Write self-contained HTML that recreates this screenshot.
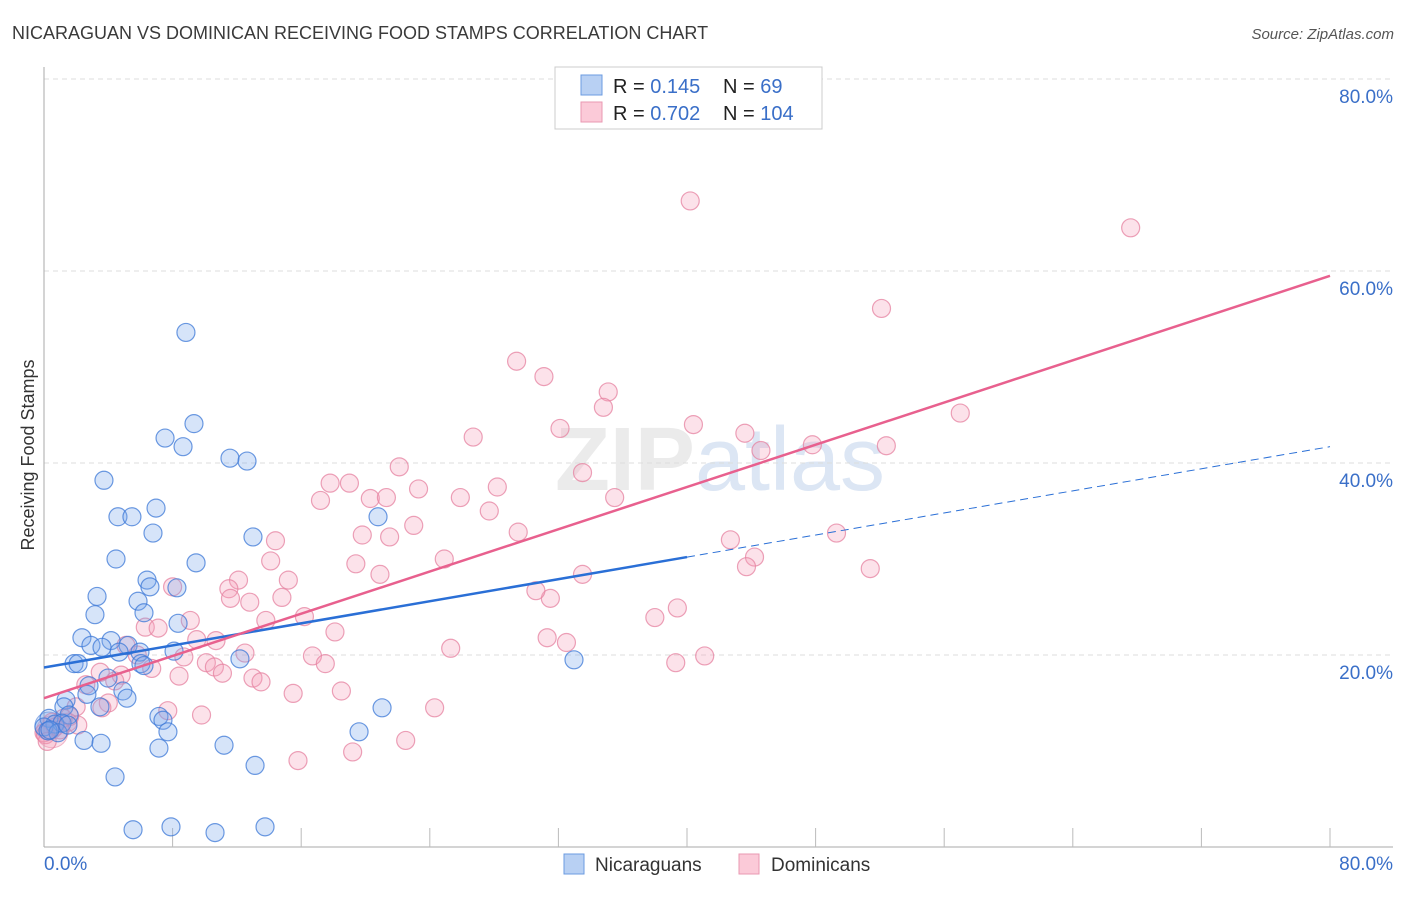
<!DOCTYPE html>
<html><head><meta charset="utf-8"><style>
body{margin:0;background:#fff;font-family:"Liberation Sans",sans-serif}
svg text{font-family:"Liberation Sans",sans-serif}
</style></head><body>
<svg id="chart" width="1406" height="892" xmlns="http://www.w3.org/2000/svg">
<text x="12" y="39" font-size="18" fill="#3a3a3a">NICARAGUAN VS DOMINICAN RECEIVING FOOD STAMPS CORRELATION CHART</text>
<text x="1394" y="39" font-size="15" fill="#555" font-style="italic" text-anchor="end">Source: ZipAtlas.com</text>
<text x="720" y="490" font-size="90" fill="#ebebeb" text-anchor="middle" font-weight="bold">ZIP<tspan fill="#dce6f4" font-weight="normal">atlas</tspan></text>
<g id="grid"></g>
<g id="axes"></g>
<g id="pts"></g>
<g id="lines"></g>
<text transform="translate(34,455) rotate(-90)" font-size="18" fill="#333" text-anchor="middle">Receiving Food Stamps</text>
<g>
<rect x="555" y="67" width="267" height="62" fill="#fff" stroke="#ccc"/>
<rect x="581" y="75" width="21" height="20" fill="#b8d0f3" stroke="#6b9be0"/>
<rect x="581" y="102" width="21" height="20" fill="#fbcad8" stroke="#ea98b2"/>
<text x="613" y="93" font-size="20" fill="#222">R = <tspan fill="#3a6fc8"> 0.145</tspan></text>
<text x="723" y="93" font-size="20" fill="#222">N = <tspan fill="#3a6fc8">  69</tspan></text>
<text x="613" y="120" font-size="20" fill="#222">R = <tspan fill="#3a6fc8">0.702</tspan></text>
<text x="723" y="120" font-size="20" fill="#222">N = <tspan fill="#3a6fc8">104</tspan></text>
</g>
<g>
<rect x="564" y="854" width="20" height="20" fill="#b8d0f3" stroke="#6b9be0"/>
<text x="595" y="871" font-size="19" fill="#333">Nicaraguans</text>
<rect x="739" y="854" width="20" height="20" fill="#fbcad8" stroke="#ea98b2"/>
<text x="771" y="871" font-size="19" fill="#333">Dominicans</text>
</g>
</svg>
<script>
const blueX=[8.83,9.33,7.53,8.65,11.57,12.63,3.73,6.97,4.6,5.47,20.78,6.78,13.0,4.48,9.46,6.41,6.59,8.27,3.3,5.85,6.22,3.17,8.34,2.36,4.17,2.92,3.61,5.23,5.97,4.67,8.09,12.19,32.97,1.87,2.12,6.03,6.22,2.8,3.98,2.67,4.91,5.16,1.37,1.24,3.48,1.56,7.15,7.4,0.31,0.68,1.12,0,0.25,0.87,1.49,7.71,21.03,19.6,2.49,3.55,7.15,11.2,13.13,4.42,5.54,7.9,10.64,13.75,0.37];
const blueY=[53.6,44.1,42.6,41.7,40.5,40.2,38.2,35.3,34.4,34.4,34.4,32.7,32.3,30.0,29.6,27.8,27.1,27.0,26.1,25.6,24.4,24.2,23.3,21.8,21.5,21.0,20.8,21.0,20.3,20.3,20.4,19.6,19.5,19.1,19.1,19.1,18.9,16.8,17.6,15.9,16.25,15.5,15.3,14.6,14.6,13.75,13.6,13.2,13.4,12.8,12.9,12.5,12.1,11.9,12.7,12.0,14.5,12.0,11.1,10.8,10.3,10.6,8.5,7.3,1.8,2.1,1.5,2.1,12.2];
const pinkX=[40.2,67.6,52.1,29.4,31.1,35.1,34.8,57.0,26.7,40.4,32.1,43.6,47.8,52.4,44.6,22.1,33.5,17.8,19.0,23.3,28.2,17.2,20.3,21.3,25.9,35.5,27.7,23.0,29.5,19.8,21.5,14.4,49.3,42.7,14.1,24.9,44.2,19.4,43.7,20.9,33.5,51.4,15.2,12.1,8.0,11.5,11.6,14.8,12.8,31.5,30.6,39.4,38.0,9.1,13.8,16.2,6.3,7.1,18.1,31.3,32.5,10.7,9.5,25.3,5.1,5.8,12.5,8.7,16.7,41.1,39.3,6.7,10.1,17.5,10.6,3.5,4.8,8.4,11.1,13.0,13.5,2.6,4.4,15.5,18.5,4.0,2.0,3.6,9.8,24.3,7.7,1.5,1.2,0.5,22.5,19.2,15.8,0,0.7,1.0,0.1,1.6,2.1,0.2];
const pinkY=[67.3,64.5,56.1,50.6,49.0,47.4,45.8,45.2,42.7,44.0,43.6,43.1,41.9,41.8,41.3,39.6,39.0,37.9,37.9,37.3,37.5,36.1,36.3,36.4,36.4,36.4,35.0,33.5,32.8,32.5,32.3,31.9,32.7,32.0,29.8,30.0,30.2,29.5,29.2,28.4,28.4,29.0,27.8,27.8,27.1,26.9,25.9,26.0,25.5,25.9,26.7,24.9,23.9,23.6,23.6,24.0,22.9,22.8,22.4,21.8,21.3,21.5,21.6,20.7,21.0,20.0,20.2,19.8,19.9,19.9,19.2,18.6,19.2,19.1,18.75,18.2,17.9,17.8,18.1,17.6,17.2,16.9,17.3,16.0,16.25,15.0,14.6,14.5,13.75,14.5,14.2,13.0,13.4,13.0,11.1,9.9,9.0,11.9,12.5,12.2,11.7,13.6,12.7,11.0];
const yTicks=[20,40,60,80];
const yTickLabels=["20.0%","40.0%","60.0%","80.0%"];
const xTickVals=[8,16,24,32,40,48,56,64,72,80];
const blueTrend=[18.7,0.2875]; // intercept, slope
const pinkTrend=[15.5,0.55];
const blueSolidEnd=40;
const NS='http://www.w3.org/2000/svg';
const X=v=>44+v*16.075, Y=v=>847-v*9.6;
function mk(t,a,p){const e=document.createElementNS(NS,t);for(const k in a)e.setAttribute(k,a[k]);p.appendChild(e);return e;}
const grid=document.getElementById('grid'),axes=document.getElementById('axes');
yTicks.forEach((t,i)=>{
 const l=mk('line',{x1:44,x2:1393,y1:Y(t),y2:Y(t),stroke:'#ddd','stroke-dasharray':'5,4'},grid);
 
 
 const tx=mk('text',{x:1393,y:Y(t)+24,'font-size':19,fill:'#3a6fc8','text-anchor':'end'},axes);
 tx.textContent=yTickLabels[i];
 
 
});
mk('line',{x1:44,x2:44,y1:67,y2:847,stroke:'#aaa'},axes);
mk('line',{x1:44,x2:1393,y1:847,y2:847,stroke:'#aaa'},axes);
xTickVals.forEach(t=>{
 const l=mk('line',{x1:X(t),x2:X(t),y1:828,y2:847,stroke:'#bbb'},axes);
 
 
});
const x0=mk('text',{x:44,y:870,'font-size':19,fill:'#3a6fc8'},axes);x0.textContent='0.0%';


const x1=mk('text',{x:1393,y:870,'font-size':19,fill:'#3a6fc8','text-anchor':'end'},axes);x1.textContent='80.0%';


const pts=document.getElementById('pts');
function draw(xs,ys,fill,stroke,name){xs.forEach((x,i)=>{
 const c=mk('circle',{cx:X(x),cy:Y(ys[i]),r:9,fill:fill,stroke:stroke,'stroke-width':1.2},pts);
 
 
});}
mk('circle',{cx:X(0.5),cy:Y(12),r:16,fill:'rgba(240,140,170,0.25)',stroke:'rgba(232,140,170,0.6)'},pts);
mk('circle',{cx:X(0.3),cy:Y(12.6),r:14,fill:'rgba(100,150,230,0.25)',stroke:'rgba(80,130,220,0.6)'},pts);
draw(pinkX,pinkY,'rgba(245,160,185,0.3)','rgba(230,130,160,0.75)','dominican-point');
draw(blueX,blueY,'rgba(120,165,235,0.3)','rgba(60,120,215,0.75)','nicaraguan-point');
const ln=document.getElementById('lines');
const bt=v=>blueTrend[0]+blueTrend[1]*v, pt=v=>pinkTrend[0]+pinkTrend[1]*v;
const b1=mk('line',{x1:X(0),y1:Y(bt(0)),x2:X(blueSolidEnd),y2:Y(bt(blueSolidEnd)),stroke:'#2a6fd6','stroke-width':2.5},ln);


const b2=mk('line',{x1:X(blueSolidEnd),y1:Y(bt(blueSolidEnd)),x2:X(80),y2:Y(bt(80)),stroke:'#2a6fd6','stroke-width':1,'stroke-dasharray':'8,5'},ln);


const p1=mk('line',{x1:X(0),y1:Y(pt(0)),x2:X(80),y2:Y(pt(80)),stroke:'#e8608e','stroke-width':2.5},ln);


</script>
</body></html>
